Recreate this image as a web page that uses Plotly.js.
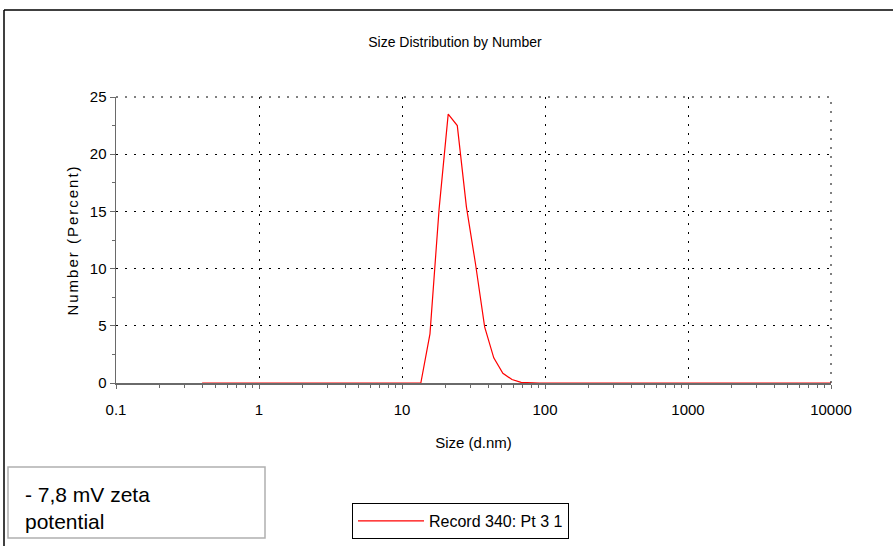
<!DOCTYPE html>
<html>
<head>
<meta charset="utf-8">
<script src="https://cdn.plot.ly/plotly-3.0.1.min.js"></script>
<style>
  html, body { margin: 0; padding: 0; background: #fff; }
  #chart { width: 893px; height: 546px; }
  #chart .ytitle { letter-spacing: 2px; }
</style>
</head>
<body>
<div id="chart"></div>
<script>
// Size bins (d.nm) and number distribution (%)
const sizes = [0.4000, 0.4632, 0.5365, 0.6213, 0.7195, 0.8332, 0.9649, 1.117, 1.294, 1.499,
  1.736, 2.010, 2.328, 2.696, 3.122, 3.615, 4.187, 4.849, 5.615, 6.503,
  7.531, 8.721, 10.10, 11.70, 13.54, 15.69, 18.17, 21.04, 24.36, 28.21,
  32.67, 37.84, 43.82, 50.75, 58.77, 68.06, 78.82, 91.28, 105.7, 122.4,
  141.8, 164.2, 190.1, 220.2, 255.0, 295.3, 342.0, 396.1, 458.7, 531.2,
  615.1, 712.4, 825.0, 955.4, 1106, 1281, 1484, 1718, 1990, 2305,
  2669, 3091, 3580, 4145, 4801, 5560, 6439, 7456, 8635, 10000];
const numberPct = [0, 0, 0, 0, 0, 0, 0, 0, 0, 0,
  0, 0, 0, 0, 0, 0, 0, 0, 0, 0,
  0, 0, 0, 0, 0, 4.3, 15.2, 23.5, 22.5, 15.4,
  10.4, 4.9, 2.2, 0.85, 0.3, 0.05, 0, 0, 0, 0,
  0, 0, 0, 0, 0, 0, 0, 0, 0, 0,
  0, 0, 0, 0, 0, 0, 0, 0, 0, 0,
  0, 0, 0, 0, 0, 0, 0, 0, 0, 0];
const seriesName = 'Record 340: Pt 3 1';
const xTickVals = [0.1, 1, 10, 100, 1000, 10000];
const xTickText = ['0.1', '1', '10', '100', '1000', '10000'];
const yTickVals = [0, 5, 10, 15, 20, 25];
const chartTitle = 'Size Distribution by Number';
const xTitle = 'Size (d.nm)';
const yTitle = 'Number (Percent)';
const noteText = '- 7,8 mV zeta<br>potential';

const sans = '"Liberation Sans", Arial, sans-serif';
const gridDash = '2px,7px';

const trace = {
  x: sizes, y: numberPct, type: 'scatter', mode: 'lines', name: seriesName,
  line: { color: 'rgb(255,0,0)', width: 1.2 }, showlegend: true
};

const layout = {
  width: 893, height: 546,
  margin: { l: 116, r: 62, t: 97, b: 163, autoexpand: false },
  paper_bgcolor: '#fff', plot_bgcolor: '#fff',
  font: { family: sans, color: '#000', size: 14 },
  title: { text: chartTitle, x: 455 / 893, xref: 'container', xanchor: 'center',
           y: 1 - 42 / 546, yref: 'container', yanchor: 'middle',
           font: { family: sans, size: 14, color: '#000' } },
  xaxis: {
    type: 'log', range: [-1, 4], tickmode: 'array', tickvals: xTickVals, ticktext: xTickText,
    showline: true, linecolor: '#6a6a6a', linewidth: 1.5,
    ticks: 'outside', ticklen: 4, tickcolor: '#6a6a6a', tickwidth: 1,
    ticklabelstandoff: 8,
    showgrid: true, gridcolor: '#000', gridwidth: 1, griddash: gridDash,
    zeroline: false,
    minor: { tickmode: 'linear', dtick: 'D1', ticks: 'outside', ticklen: 3, tickcolor: '#6a6a6a', showgrid: false },
    tickfont: { family: sans, size: 15, color: '#000' },
    title: { text: xTitle, standoff: 21, font: { family: sans, size: 15, color: '#000' } }
  },
  yaxis: {
    range: [0, 25], tickmode: 'array', tickvals: yTickVals,
    showline: true, linecolor: '#6a6a6a', linewidth: 1.5,
    ticks: 'outside', ticklen: 5, tickcolor: '#6a6a6a', tickwidth: 1,
    showgrid: true, gridcolor: '#000', gridwidth: 1, griddash: gridDash,
    zeroline: false,
    minor: { dtick: 2.5, ticks: 'outside', ticklen: 3, tickcolor: '#6a6a6a', showgrid: false },
    tickfont: { family: sans, size: 15, color: '#000' },
    title: { text: yTitle, standoff: 7, font: { family: sans, size: 15, color: '#000' } }
  },
  showlegend: true,
  legend: {
    x: (352 - 116) / 715, y: (383 - 503) / 286, xanchor: 'left', yanchor: 'top',
    bordercolor: '#000', borderwidth: 1, bgcolor: '#fff',
    itemwidth: 66, font: { family: sans, size: 16, color: '#000' }
  },
  shapes: [
    // dotted frame lines at top (25) and right (10000)
    { type: 'line', xref: 'paper', yref: 'paper', x0: 0, x1: 1, y0: 1, y1: 1,
      line: { color: '#000', width: 1, dash: gridDash } },
    { type: 'line', xref: 'paper', yref: 'paper', x0: 1, x1: 1, y0: 0, y1: 1,
      line: { color: '#000', width: 1, dash: gridDash } },
    // outer frame (top + left)
    { type: 'line', xref: 'paper', yref: 'paper', x0: (4 - 116) / 715, x1: (893 - 116) / 715,
      y0: (383 - 10) / 286, y1: (383 - 10) / 286, line: { color: '#000', width: 1.5 } },
    { type: 'line', xref: 'paper', yref: 'paper', x0: (4 - 116) / 715, x1: (4 - 116) / 715,
      y0: (383 - 10) / 286, y1: (383 - 546) / 286, line: { color: '#000', width: 1.5 } },
    // note box
    { type: 'rect', xref: 'paper', yref: 'paper', x0: (8 - 116) / 715, x1: (265 - 116) / 715,
      y0: (383 - 538) / 286, y1: (383 - 467) / 286, line: { color: '#b0b0b0', width: 1.5 }, fillcolor: 'rgba(0,0,0,0)' }
  ],
  annotations: [
    { xref: 'paper', yref: 'paper', x: (23 - 116) / 715, y: (383 - 508) / 286,
      xanchor: 'left', yanchor: 'middle', align: 'left', showarrow: false,
      text: noteText, font: { family: sans, size: 21, color: '#000' } }
  ]
};

Plotly.newPlot('chart', [trace], layout, { displayModeBar: false, staticPlot: true });
</script>
</body>
</html>
